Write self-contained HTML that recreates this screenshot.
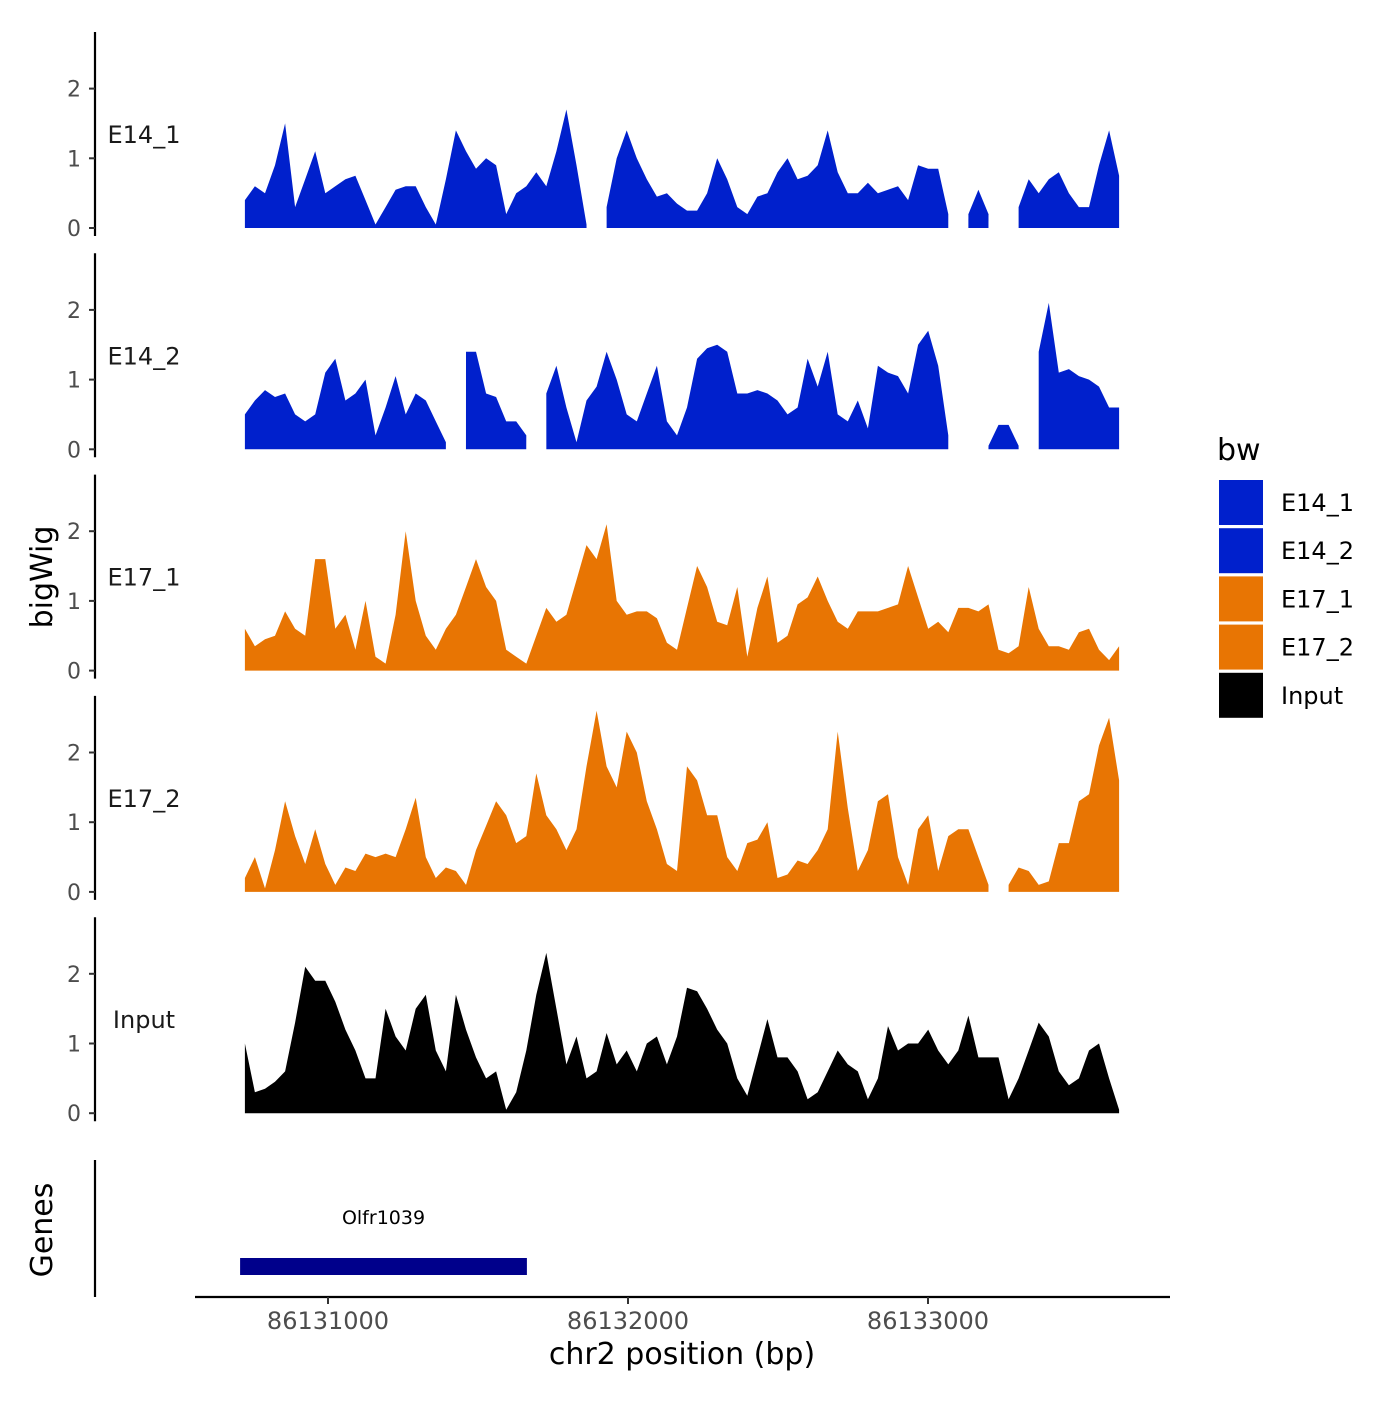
<!DOCTYPE html>
<html><head><meta charset="utf-8"><style>
body{margin:0;background:#fff}
svg text{font-family:"DejaVu Sans","Liberation Sans",sans-serif}
</style></head><body>
<svg id="chart" width="1400" height="1400" viewBox="0 0 1400 1400" xmlns="http://www.w3.org/2000/svg"></svg>
<script>
const trackNames = ["E14_1","E14_2","E17_1","E17_2","Input"];
const trackColors = ["#0020CC","#0020CC","#E87503","#E87503","#000000"];
const bpStart = 86130723, bpEnd = 86133637;
const e14_1 = [0.4,0.6,0.5,0.9,1.5,0.3,0.7,1.1,0.5,0.6,0.7,0.75,0.4,0.05,0.3,0.55,0.6,0.6,0.3,0.05,0.7,1.4,1.1,0.85,1.0,0.9,0.2,0.5,0.6,0.8,0.6,1.1,1.7,0.9,0.05,null,0.3,1.0,1.4,1.0,0.7,0.45,0.5,0.35,0.25,0.25,0.5,1.0,0.7,0.3,0.2,0.45,0.5,0.8,1.0,0.7,0.75,0.9,1.4,0.8,0.5,0.5,0.65,0.5,0.55,0.6,0.4,0.9,0.85,0.85,0.2,null,0.2,0.55,0.2,null,null,0.3,0.7,0.5,0.7,0.8,0.5,0.3,0.3,0.9,1.4,0.75];
const e14_2 = [0.5,0.7,0.85,0.75,0.8,0.5,0.4,0.5,1.1,1.3,0.7,0.8,1.0,0.2,0.6,1.05,0.5,0.8,0.7,0.4,0.1,null,1.4,1.4,0.8,0.75,0.4,0.4,0.2,null,0.8,1.2,0.6,0.1,0.7,0.9,1.4,1.0,0.5,0.4,0.8,1.2,0.4,0.2,0.6,1.3,1.45,1.5,1.4,0.8,0.8,0.85,0.8,0.7,0.5,0.6,1.3,0.9,1.4,0.5,0.4,0.7,0.3,1.2,1.1,1.05,0.8,1.5,1.7,1.2,0.2,null,null,null,0.05,0.35,0.35,0.05,null,1.4,2.1,1.1,1.15,1.05,1.0,0.9,0.6,0.6];
const e17_1 = [0.6,0.35,0.45,0.5,0.85,0.6,0.5,1.6,1.6,0.6,0.8,0.3,1.0,0.2,0.1,0.8,2.0,1.0,0.5,0.3,0.6,0.8,1.2,1.6,1.2,1.0,0.3,0.2,0.1,0.5,0.9,0.7,0.8,1.3,1.8,1.6,2.1,1.0,0.8,0.85,0.85,0.75,0.4,0.3,0.9,1.5,1.2,0.7,0.65,1.2,0.2,0.9,1.35,0.4,0.5,0.95,1.05,1.35,1.0,0.7,0.6,0.85,0.85,0.85,0.9,0.95,1.5,1.05,0.6,0.7,0.55,0.9,0.9,0.85,0.95,0.3,0.25,0.35,1.2,0.6,0.35,0.35,0.3,0.55,0.6,0.3,0.15,0.35];
const e17_2 = [0.2,0.5,0.05,0.6,1.3,0.8,0.4,0.9,0.4,0.1,0.35,0.3,0.55,0.5,0.55,0.5,0.9,1.35,0.5,0.2,0.35,0.3,0.1,0.6,0.95,1.3,1.1,0.7,0.8,1.7,1.1,0.9,0.6,0.9,1.8,2.6,1.8,1.5,2.3,2.0,1.3,0.9,0.4,0.3,1.8,1.6,1.1,1.1,0.5,0.3,0.7,0.75,1.0,0.2,0.25,0.45,0.4,0.6,0.9,2.3,1.2,0.3,0.6,1.3,1.4,0.5,0.1,0.9,1.1,0.3,0.8,0.9,0.9,0.5,0.1,null,0.1,0.35,0.3,0.1,0.15,0.7,0.7,1.3,1.4,2.1,2.5,1.6];
const input = [1.0,0.3,0.35,0.45,0.6,1.3,2.1,1.9,1.9,1.6,1.2,0.9,0.5,0.5,1.5,1.1,0.9,1.5,1.7,0.9,0.6,1.7,1.2,0.8,0.5,0.6,0.05,0.3,0.9,1.7,2.3,1.5,0.7,1.1,0.5,0.6,1.15,0.7,0.9,0.6,1.0,1.1,0.7,1.1,1.8,1.75,1.5,1.2,1.0,0.5,0.25,0.8,1.35,0.8,0.8,0.6,0.2,0.3,0.6,0.9,0.7,0.6,0.2,0.5,1.25,0.9,1.0,1.0,1.2,0.9,0.7,0.9,1.4,0.8,0.8,0.8,0.2,0.5,0.9,1.3,1.1,0.6,0.4,0.5,0.9,1.0,0.5,0.05];
const trackData = [e14_1,e14_2,e17_1,e17_2,input];
const yTicks = [0,1,2];
const xTicks = [86131000,86132000,86133000];
const geneName = "Olfr1039";
const geneStart = 86130707, geneEnd = 86131663;

const svg = document.getElementById('chart');
const NS = 'http://www.w3.org/2000/svg';
function mk(tag, attrs, parent){const e=document.createElementNS(NS,tag);for(const k in attrs)e.setAttribute(k,attrs[k]);(parent||svg).appendChild(e);return e;}
const xScale = bp => 328 + (bp - 86131000) * 0.3;
const panelZero = i => 228 + i * 221.3;
const yScale = (i, v) => panelZero(i) - v * 69.7;

trackData.forEach((vals, i) => {
  const g = mk('g', {});
  
  
  const z = panelZero(i);
  const ax = mk('line', {x1:95, x2:95, y1:z-196, y2:z+8, stroke:'#000', 'stroke-width':2.2}, g);
  
  
  yTicks.forEach(t => {
    const y = yScale(i, t);
    const tk = mk('line', {x1:89, x2:95, y1:y, y2:y, stroke:'#333', 'stroke-width':2}, g);
    
    
    const tl = mk('text', {x:81, y:y+8, 'text-anchor':'end', 'font-size':22, fill:'#4d4d4d'}, g);
    tl.textContent = t;
    
    
  });
  const lb = mk('text', {x:144, y:z-85, 'text-anchor':'middle', 'font-size':24, fill:'#1a1a1a'}, g);
  lb.textContent = trackNames[i];
  
  
  const n = vals.length;
  const bpAt = k => bpStart + (bpEnd - bpStart) * k / (n - 1);
  let seg = [];
  const flush = () => {
    if (seg.length) {
      let d = 'M' + xScale(bpAt(seg[0])) + ',' + z;
      seg.forEach(k => { d += 'L' + xScale(bpAt(k)).toFixed(1) + ',' + yScale(i, vals[k]).toFixed(1); });
      d += 'L' + xScale(bpAt(seg[seg.length-1])) + ',' + z + 'Z';
      const p = mk('path', {d:d, fill:trackColors[i]}, g);
      
      
    }
    seg = [];
  };
  for (let k = 0; k < n; k++) { if (vals[k] === null) flush(); else seg.push(k); }
  flush();
});

// genes panel
const gg = mk('g', {});


const gax = mk('line', {x1:95, x2:95, y1:1160, y2:1297, stroke:'#000', 'stroke-width':2.2}, gg);


const gr = mk('rect', {x:xScale(geneStart), y:1258, width:xScale(geneEnd)-xScale(geneStart), height:17, fill:'#00008B'}, gg);


const gl = mk('text', {x:(xScale(geneStart)+xScale(geneEnd))/2, y:1224, 'text-anchor':'middle', 'font-size':19, fill:'#000'}, gg);
gl.textContent = geneName;



// x axis
const xa = mk('line', {x1:195, x2:1170, y1:1297, y2:1297, stroke:'#000', 'stroke-width':2.2});


xTicks.forEach(t => {
  const x = xScale(t);
  const tk = mk('line', {x1:x, x2:x, y1:1297, y2:1304, stroke:'#333', 'stroke-width':2});
  
  
  const tl = mk('text', {x:x, y:1329, 'text-anchor':'middle', 'font-size':24, fill:'#4d4d4d'});
  tl.textContent = t;
  
  
});
const xt = mk('text', {x:682, y:1364, 'text-anchor':'middle', 'font-size':30, fill:'#000'});
xt.textContent = 'chr2 position (bp)';


const yt = mk('text', {x:0, y:0, transform:'translate(52,577) rotate(-90)', 'text-anchor':'middle', 'font-size':30, fill:'#000'});
yt.textContent = 'bigWig';


const gt = mk('text', {x:0, y:0, transform:'translate(52,1230) rotate(-90)', 'text-anchor':'middle', 'font-size':30, fill:'#000'});
gt.textContent = 'Genes';



// legend
const lg = mk('g', {});


const lt = mk('text', {x:1217, y:460, 'font-size':30, fill:'#000'}, lg);
lt.textContent = 'bw';


trackNames.forEach((nm, i) => {
  const y = 480 + i * 48.2;
  const r = mk('rect', {x:1219, y:y, width:44, height:45, fill:trackColors[i]}, lg);
  
  
  const t = mk('text', {x:1281, y:y+31, 'font-size':24, fill:'#000'}, lg);
  t.textContent = nm;
  
  
});
</script>
</body></html>
